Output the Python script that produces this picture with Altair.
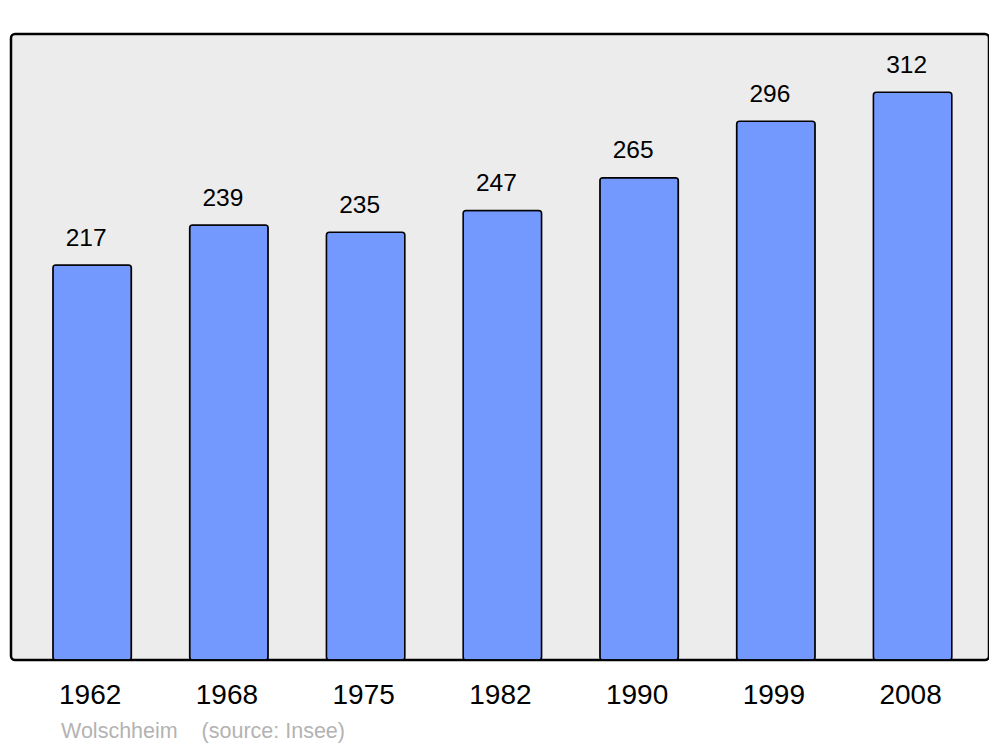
import altair as alt
import pandas as pd

years = ["1962", "1968", "1975", "1982", "1990", "1999", "2008"]
population = [217, 239, 235, 247, 265, 296, 312]

df = pd.DataFrame({"year": years, "pop": population})

FONT = "Liberation Sans"

x = alt.X(
    "year:N",
    sort=years,
    scale=alt.Scale(paddingInner=0.426, paddingOuter=0.289, align=0.53),
    axis=alt.Axis(
        title=None,
        labelAngle=0,
        labelFontSize=28,
        labelFont=FONT,
        labelColor="black",
        labelPadding=21,
        labelOffset=-2,
        ticks=False,
        domain=False,
        grid=False,
    ),
)
y = alt.Y("pop:Q", scale=alt.Scale(domain=[0, 344], nice=False, zero=True), axis=None)

bars = alt.Chart(df).mark_bar(
    fill="#7399ff", stroke="black", strokeWidth=1.5, cornerRadius=3
).encode(x=x, y=y)

labels = alt.Chart(df).mark_text(
    baseline="bottom", dy=-14.5, dx=-6, fontSize=24.5, font=FONT, color="black"
).encode(x=x, y=y, text="pop:Q")

chart = (
    alt.layer(bars, labels)
    .properties(
        width=978,
        height=626,
        background="white",
        padding={"left": 3, "top": 26, "right": 0, "bottom": 0},
        title=alt.TitleParams(
            text="Wolschheim\u00a0\u00a0\u00a0\u00a0(source: Insee)",
            orient="bottom",
            anchor="start",
            frame="bounds",
            dx=50,
            offset=12,
            fontSize=21.5,
            font=FONT,
            fontWeight="normal",
            color="#b3b3b3",
        ),
    )
    .configure_view(fill="#ececec", stroke="black", strokeWidth=2.5, cornerRadius=4)
)

chart.save("out.html", embed_options={"renderer": "svg", "actions": False})
